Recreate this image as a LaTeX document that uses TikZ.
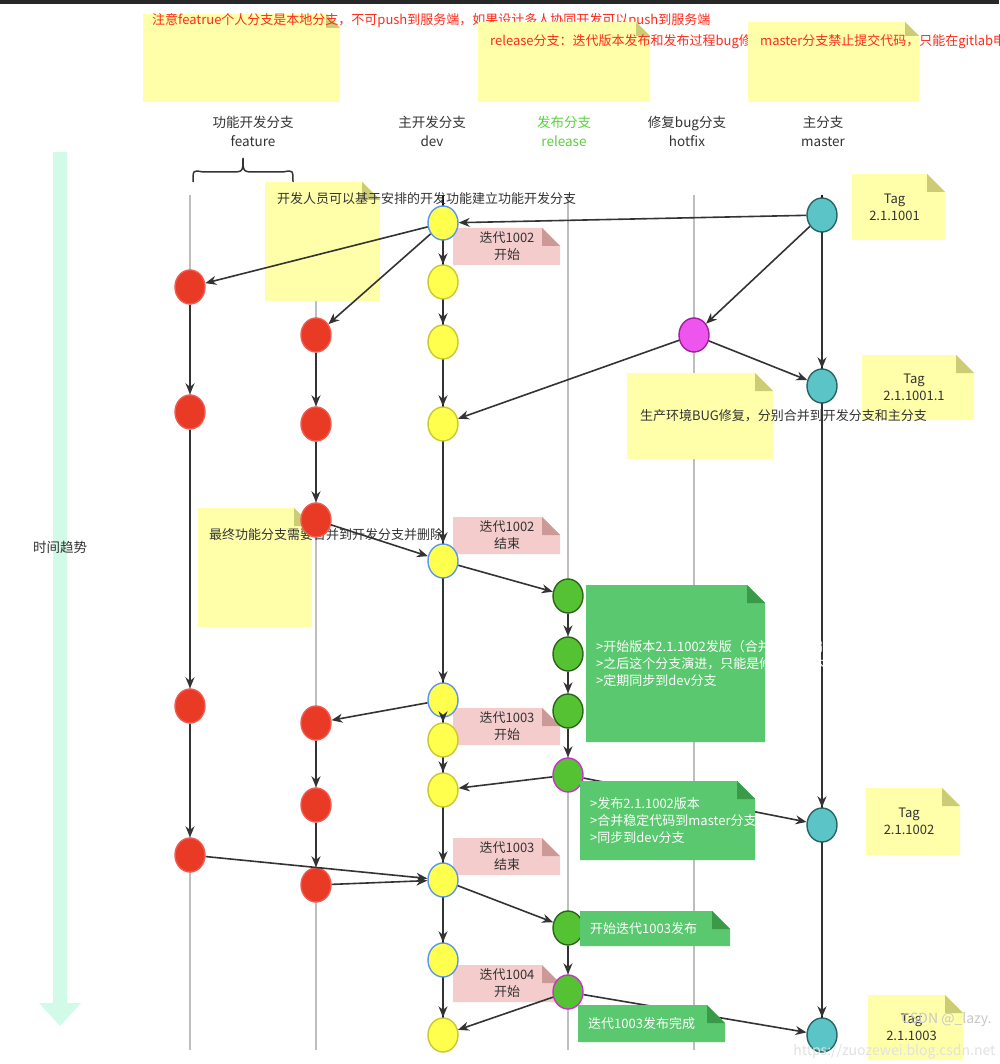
\documentclass[tikz,border=0pt]{standalone}
\usepackage{fontspec}
\setmainfont{Noto Sans CJK SC}
\usetikzlibrary{shapes.geometric,arrows.meta}
\definecolor{ynote}{HTML}{FFFFAA}
\definecolor{yfold}{HTML}{CCCC77}
\definecolor{pnote}{HTML}{F5CCCC}
\definecolor{pfold}{HTML}{CC9999}
\definecolor{gnote}{HTML}{5AC86E}
\definecolor{gfold}{HTML}{3A9A48}
\definecolor{txt}{HTML}{333333}
\definecolor{redtxt}{HTML}{FF2A1A}
\definecolor{topbar}{HTML}{282828}
\definecolor{mint}{HTML}{D2FAE8}
\definecolor{relg}{HTML}{5AD23C}
\definecolor{lanegray}{HTML}{BEBEBE}
\definecolor{lanedark}{HTML}{141414}
\definecolor{wm1c}{HTML}{C8C8C8}
\definecolor{wm2c}{HTML}{E1E1E1}
\definecolor{dvf}{HTML}{FFFF4D}
\definecolor{dvd}{HTML}{C8C832}
\definecolor{dvbd}{HTML}{5A96F0}
\definecolor{ftf}{HTML}{E83A25}
\definecolor{ftd}{HTML}{F05A50}
\definecolor{rlf}{HTML}{55C233}
\definecolor{rld}{HTML}{2E641A}
\definecolor{rlpd}{HTML}{C832C8}
\definecolor{msf}{HTML}{5BC4C6}
\definecolor{msd}{HTML}{286464}
\definecolor{hff}{HTML}{EE55EE}
\definecolor{hfd}{HTML}{A01EA0}
\begin{document}
\begin{tikzpicture}[x=1pt,y=-1pt,
  commitnode/.style={ellipse,minimum width=30pt,minimum height=34pt,line width=1.4pt,inner sep=0pt},
  dv/.style={commitnode,fill=dvf,draw=dvd},
  dvb/.style={dv,draw=dvbd},
  ft/.style={commitnode,fill=ftf,draw=ftd},
  rl/.style={commitnode,fill=rlf,draw=rld},
  rlp/.style={rl,draw=rlpd},
  ms/.style={commitnode,fill=msf,draw=msd},
  hf/.style={commitnode,fill=hff,draw=hfd},
  ar/.style={-{Stealth[length=11pt,width=9pt]},line width=1.6pt,draw=txt},
  gl/.style={line width=2.5pt,draw=lanegray},
  nt/.style={font=\fontsize{13}{17}\selectfont,text=txt,align=left,inner sep=0pt},
  ntc/.style={nt,align=center},
  ntr/.style={nt,text=redtxt},
  ntw/.style={nt,text=white},
  hd/.style={font=\fontsize{13.5}{19}\selectfont,text=txt,align=center}]
\useasboundingbox (0,0) rectangle (999,1064);
\fill[white] (0,0) rectangle (999,1064);
\fill[topbar] (0,0) rectangle (999,4);
% time arrow
\fill[mint] (53,152) -- (67,152) -- (67,1003) -- (81,1003) -- (60,1026) -- (39,1003) -- (53,1003) -- cycle;
\node[hd] (time) at (60,547) {时间趋势};
% headers
\node[hd] (h1t) at (253,131) {功能开发分支\\feature};
\node[hd] (h2t) at (432,131) {主开发分支\\dev};
\node[hd,text=relg] (h3t) at (564,131) {发布分支\\release};
\node[hd] (h4t) at (687,131) {修复bug分支\\hotfix};
\node[hd] (h5t) at (823,131) {主分支\\master};
\draw[line width=1.5pt,draw=txt] (193,182) .. controls (193,170) .. (203,172) -- (230,172) .. controls (243,172) .. (243,158) .. controls (243,172) .. (256,172) -- (283,172) .. controls (293,170) .. (293,182);
% lanes
\foreach \x in {190,316,568,694} \draw[gl] (\x,195) -- (\x,1050);
\draw[line width=2.5pt,draw=lanedark] (443,195) -- (443,1050);
\draw[line width=2.5pt,draw=lanedark] (822,195) -- (822,1035);
% notes
\fill[ynote] (143,14) -- (326,14) -- (340,28) -- (340,102) -- (143,102) -- cycle;
\fill[yfold] (326,14) -- (340,28) -- (326,28) -- cycle;
\node[ntr,text width=180pt,anchor=north west] (n1) at (152,13) {注意featrue个人分支是本地分支，不可push到服务端，如果设计多人协同开发可以push到服务端};
\fill[ynote] (478,22) -- (636,22) -- (650,36) -- (650,102) -- (478,102) -- cycle;
\fill[yfold] (636,22) -- (650,36) -- (636,36) -- cycle;
\node[ntr,text width=150pt,anchor=north west] (n2) at (490,34) {release分支：迭代版本发布和发布过程bug修改};
\fill[ynote] (748,22) -- (905,22) -- (919,36) -- (919,102) -- (748,102) -- cycle;
\fill[yfold] (905,22) -- (919,36) -- (905,36) -- cycle;
\node[ntr,text width=150pt,anchor=north west] (n3) at (760,34) {master分支禁止提交代码，只能在gitlab申请合并};
% tag notes
\foreach \a/\b/\c/\d/\t [count=\i] in {852/174/945/240/2.1.1001, 862/355/974/420/2.1.1001.1, 866/788/960/855/2.1.1002, 868/995/963/1060/2.1.1003}{
  \fill[ynote] (\a,\b) -- (\c-18,\b) -- (\c,\b+18) -- (\c,\d) -- (\a,\d) -- cycle;
  \fill[yfold] (\c-18,\b) -- (\c,\b+18) -- (\c-18,\b+18) -- cycle;
  \node[ntc] (tag\i) at ({(\a+\c)/2-4},{(\b+\d)/2}) {Tag\\\t};}
% yellow notes
\fill[ynote] (265,182) -- (362,182) -- (380,200) -- (380,301) -- (265,301) -- cycle;
\fill[yfold] (362,182) -- (380,200) -- (362,200) -- cycle;
\node[nt,text width=84pt,anchor=north west] (y1) at (277,192) {开发人员可以基于安排的开发功能建立功能开发分支};
\fill[ynote] (627,373) -- (755,373) -- (773,391) -- (773,459) -- (627,459) -- cycle;
\fill[yfold] (755,373) -- (773,391) -- (755,391) -- cycle;
\node[ntc,text width=120pt] (y2) at (700,416) {生产环境BUG修复，分别合并到开发分支和主分支};
\fill[ynote] (198,508) -- (294,508) -- (312,526) -- (312,627) -- (198,627) -- cycle;
\fill[yfold] (294,508) -- (312,526) -- (294,526) -- cycle;
\node[nt,text width=84pt,anchor=north west] (y3) at (209,528) {最终功能分支需要合并到开发分支并删除};
% pink notes
\foreach \b/\t [count=\i] in {228/迭代1002\\开始, 517/迭代1002\\结束, 708/迭代1003\\开始, 838/迭代1003\\结束, 965/迭代1004\\开始}{
  \fill[pnote] (453,\b) -- (542,\b) -- (560,\b+18) -- (560,\b+37) -- (453,\b+37) -- cycle;
  \fill[pfold] (542,\b) -- (560,\b+18) -- (542,\b+18) -- cycle;
  \node[ntc] (p\i) at (507,\b+18.5) {\t};}
% nodes
\node[dvb] (d1) at (443,223) {};
\node[dv] (d2) at (443,282) {};
\node[dv] (d3) at (443,342) {};
\node[dv] (d4) at (443,424) {};
\node[dvb] (d5) at (443,561) {};
\node[dvb] (d6) at (443,700) {};
\node[dv] (d7) at (443,740) {};
\node[dv] (d8) at (443,790) {};
\node[dvb] (d9) at (443,880) {};
\node[dvb] (d10) at (443,960) {};
\node[dv] (d11) at (443,1035) {};
\node[ft] (f1) at (190,287) {};
\node[ft] (f2) at (190,412) {};
\node[ft] (f3) at (190,706) {};
\node[ft] (f4) at (190,855) {};
\node[ft] (g1) at (316,335) {};
\node[ft] (g2) at (316,424) {};
\node[ft] (g3) at (316,520) {};
\node[ft] (g4) at (316,723) {};
\node[ft] (g5) at (316,805) {};
\node[ft] (g6) at (316,885) {};
\node[rl] (r1) at (568,596) {};
\node[rl] (r2) at (568,654) {};
\node[rl] (r3) at (568,711) {};
\node[rlp] (r4) at (568,775) {};
\node[rl] (r5) at (568,928) {};
\node[rlp] (r6) at (568,992) {};
\node[hf] (hx) at (694,335) {};
\node[ms] (m1) at (822,215) {};
\node[ms] (m2) at (822,386) {};
\node[ms] (m3) at (822,825) {};
\node[ms] (m4) at (822,1035) {};
% edges
\draw[ar] (m1) -- (d1);
\draw[ar] (d1) -- (f1);
\draw[ar] (d1) -- (g1);
\draw[ar] (m1) -- (hx);
\draw[ar] (hx) -- (m2);
\draw[ar] (hx) -- (d4);
\foreach \a/\b in {d1/d2,d2/d3,d3/d4,d4/d5,d5/d6,d6/d7,d7/d8,d8/d9,d9/d10,d10/d11,f1/f2,f2/f3,f3/f4,g1/g2,g2/g3,g4/g5,g5/g6,r1/r2,r2/r3,r3/r4,r5/r6,m1/m2,m2/m3,m3/m4}
  \draw[ar] (\a) -- (\b);
\draw[ar] (g3) -- (d5);
\draw[ar] (d5) -- (r1);
\draw[ar] (d6) -- (g4);
\draw[ar] (r4) -- (d8);
\draw[ar] (r4) -- (m3);
\draw[ar] (f4) -- (d9);
\draw[ar] (g6) -- (d9);
\draw[ar] (d9) -- (r5);
\draw[ar] (r6) -- (d11);
\draw[ar] (r6) -- (m4);
% green notes
\foreach \a/\b/\c/\d/\t [count=\i] in {586/585/765/742/{>开始版本2.1.1002发版（合并代码，编译测试版本）\\>之后这个分支演进，只能是修复该版本的问题\\>定期同步到dev分支}, 580/781/755/860/{>发布2.1.1002版本\\>合并稳定代码到master分支\\>同步到dev分支}, 580/911/730/946/{开始迭代1003发布}, 578/1005/725/1042/{迭代1003发布完成}}{
  \fill[gnote] (\a,\b) -- (\c-18,\b) -- (\c,\b+18) -- (\c,\d) -- (\a,\d) -- cycle;
  \fill[gfold] (\c-18,\b) -- (\c,\b+18) -- (\c-18,\b+18) -- cycle;
  \pgfmathsetmacro\tw{\c-\a-22}
  \node[ntw,text width=\tw pt,anchor=west] (gn\i) at (\a+10,{(\b+\d)/2}) {\t};}
% watermark
\node[font=\fontsize{14}{16}\selectfont,text=wm1c,anchor=east] (wm1) at (995,1020) {CSDN @\_lazy.};
\node[font=\fontsize{14}{16}\selectfont,text=wm2c,anchor=east] (wm2) at (999,1052) {https://zuozewei.blog.csdn.net};
\end{tikzpicture}
\end{document}
